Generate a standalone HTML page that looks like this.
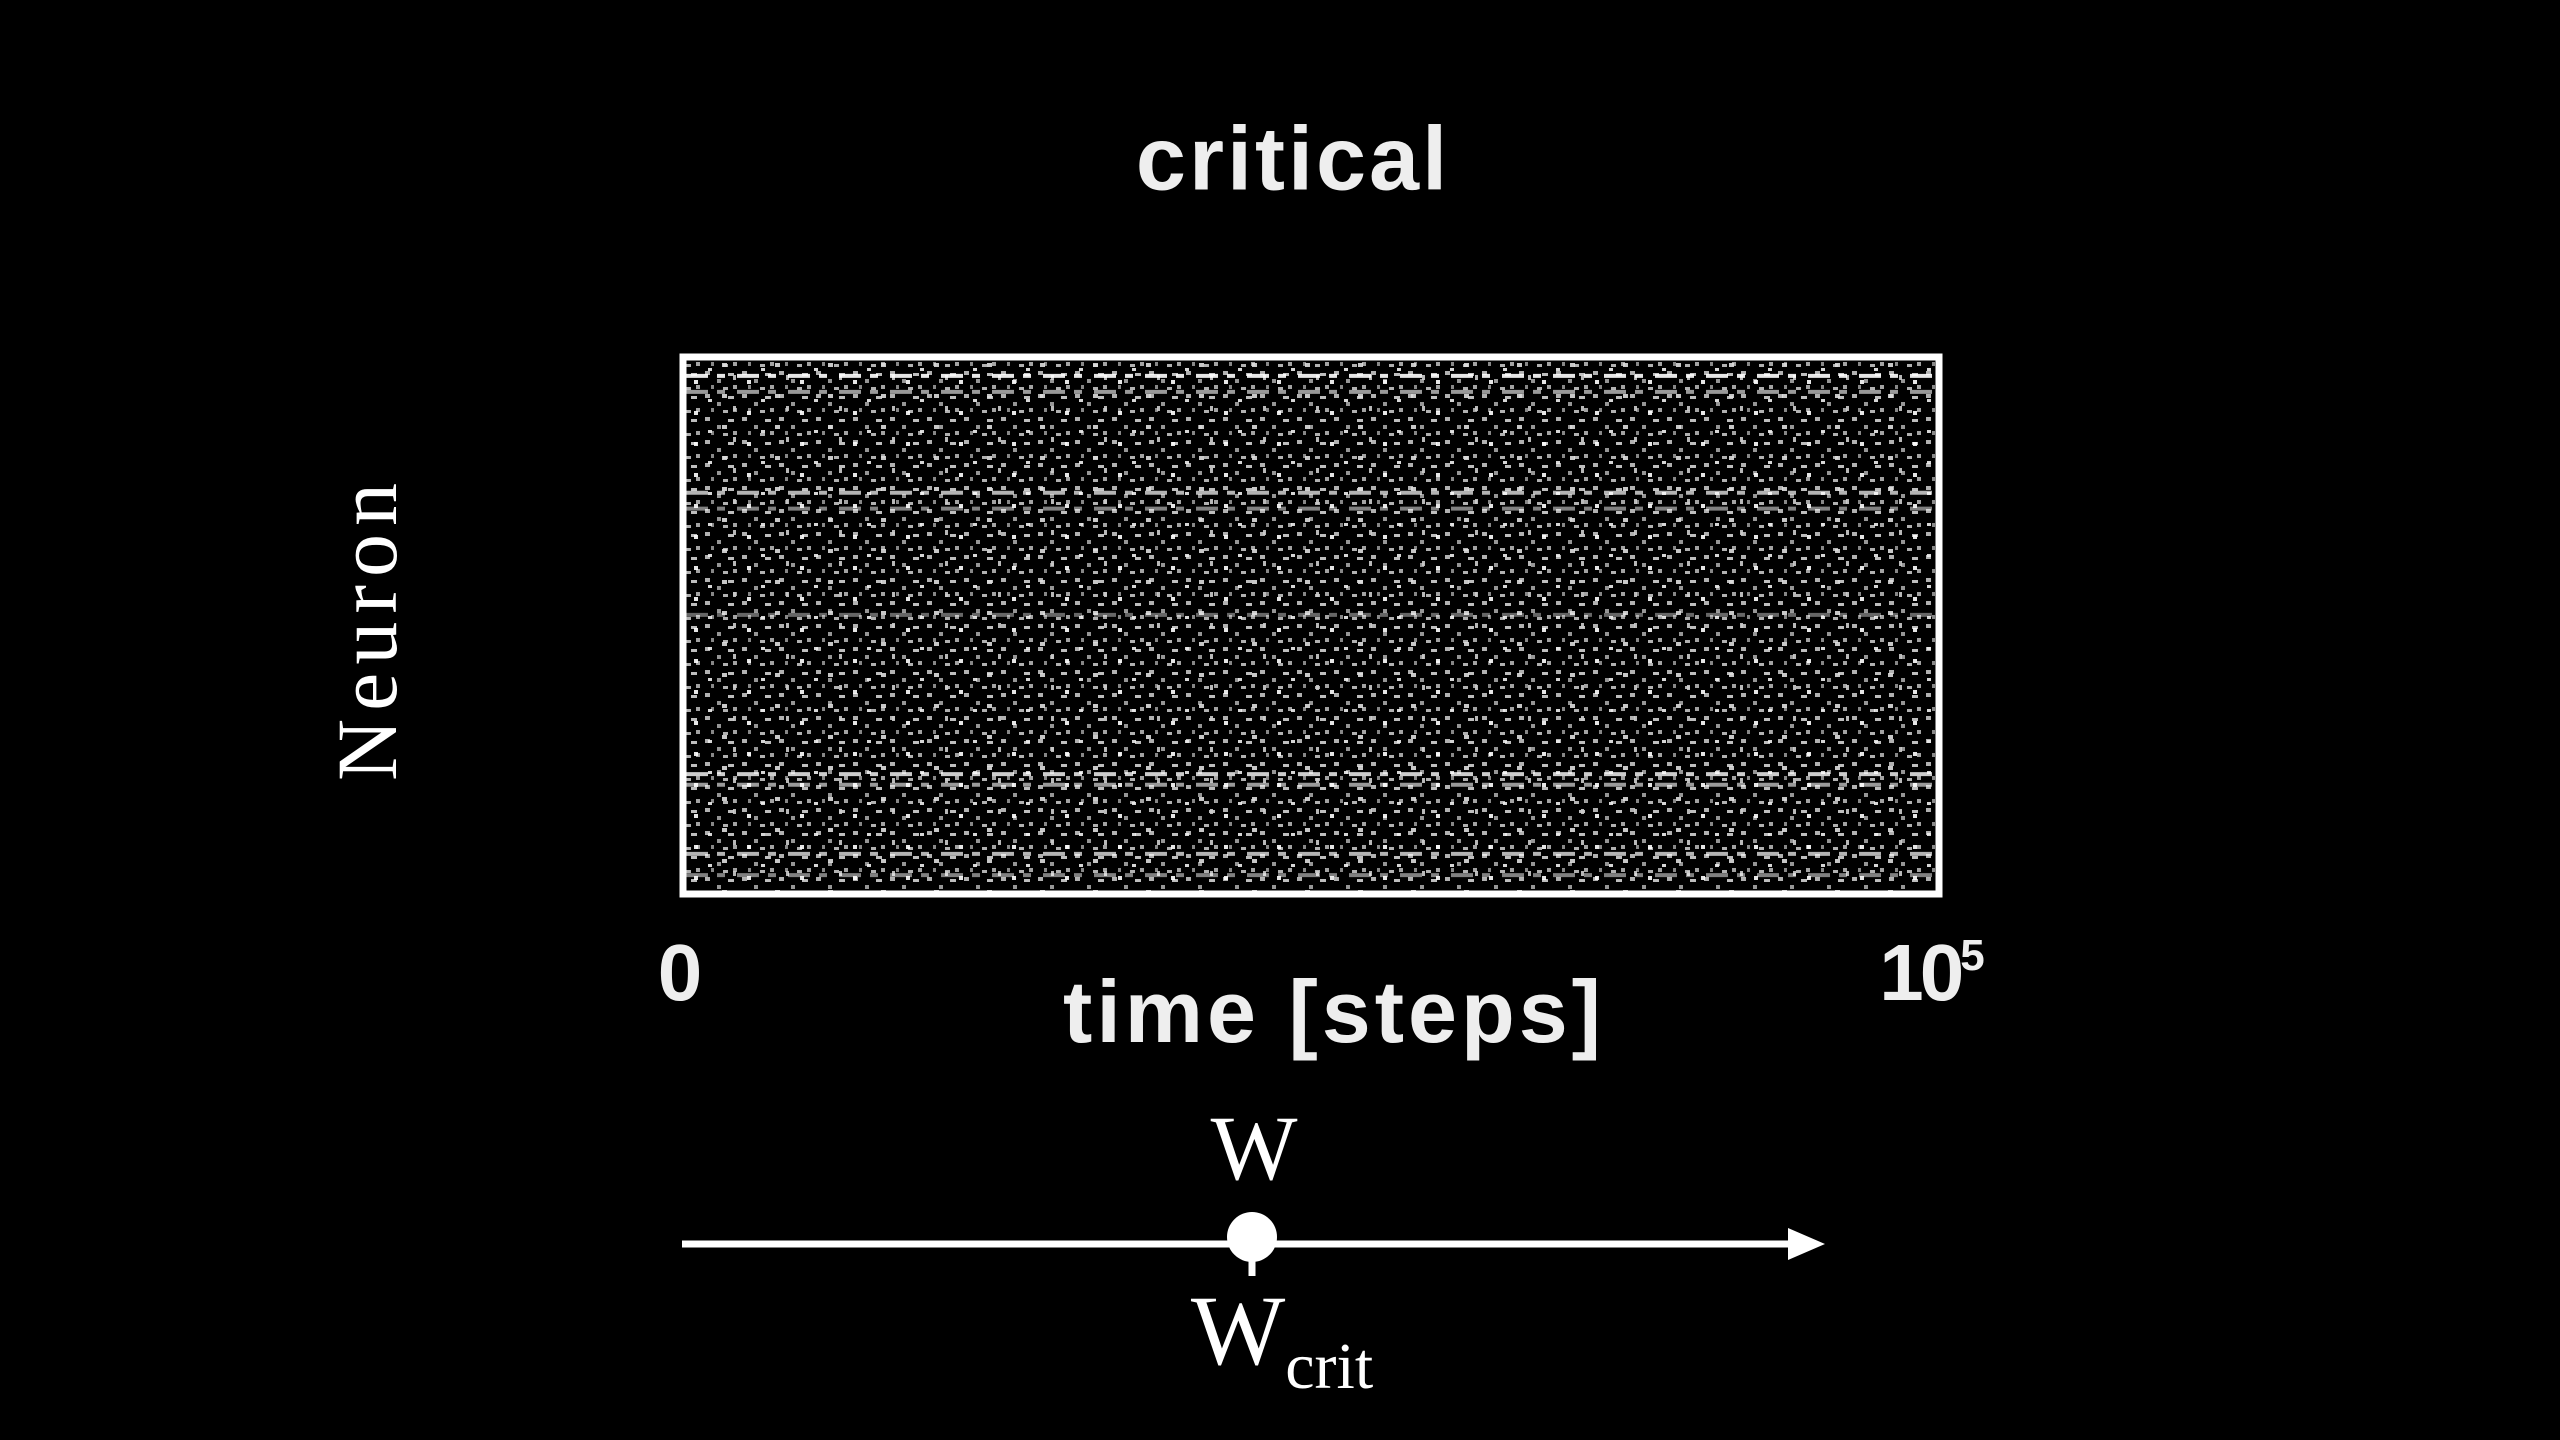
<!DOCTYPE html>
<html><head><meta charset="utf-8"><style>
html,body{margin:0;padding:0;background:#000;}
body{width:2560px;height:1440px;position:relative;overflow:hidden;}
.t{position:absolute;color:#fff;white-space:nowrap;}
</style></head><body>
<div class="t" style="left:1293px;top:160px;transform:translate(-50%,-50%);font:bold 90px 'Liberation Sans',sans-serif;letter-spacing:3px;color:#eee;">critical</div>
<div class="t" style="left:367px;top:628px;transform:translate(-50%,-50%) rotate(-90deg);font:86px 'Liberation Serif',serif;letter-spacing:8px;">Neuron</div>
<svg style="position:absolute;left:0;top:0" width="2560" height="1440">
<defs>
<pattern id="dots" width="37" height="23" patternUnits="userSpaceOnUse">
<rect x="2" y="3" width="5" height="4" fill="#ddd"/><rect x="14" y="11" width="4" height="4" fill="#bbb"/>
<rect x="25" y="5" width="6" height="3" fill="#eee"/><rect x="30" y="17" width="4" height="4" fill="#ccc"/>
<rect x="8" y="17" width="3" height="4" fill="#aaa"/><rect x="20" y="19" width="5" height="3" fill="#ddd"/>
</pattern>
<pattern id="dots2" width="53" height="31" patternUnits="userSpaceOnUse">
<rect x="5" y="8" width="4" height="4" fill="#fff"/><rect x="33" y="22" width="5" height="4" fill="#ddd"/>
<rect x="44" y="3" width="3" height="5" fill="#ccc"/><rect x="19" y="27" width="4" height="3" fill="#eee"/>
</pattern>
</defs>
<g id="raster"></g>
<rect x="683" y="357" width="1256" height="537" fill="none" stroke="#fff" stroke-width="7"/>
</svg>
<div class="t" style="left:680px;top:973px;transform:translate(-50%,-50%);font:bold 80px 'Liberation Sans',sans-serif;color:#eee;">0</div>
<div class="t" style="left:1930px;top:973px;transform:translate(-50%,-50%);font:bold 80px 'Liberation Sans',sans-serif;color:#eee;letter-spacing:-4px;">10<sup style="font-size:44px;vertical-align:30px;">5</sup></div>
<div class="t" style="left:1334px;top:1012px;transform:translate(-50%,-50%);font:bold 88px 'Liberation Sans',sans-serif;letter-spacing:4px;color:#eee;">time [steps]</div>
<div class="t" style="left:1254px;top:1148px;transform:translate(-50%,-50%);font:92px 'Liberation Serif',serif;">W</div>
<svg style="position:absolute;left:0;top:0" width="2560" height="1440">
<line x1="682" y1="1244" x2="1795" y2="1244" stroke="#fff" stroke-width="7"/>
<polygon points="1825,1244 1788,1228 1788,1260" fill="#fff"/>
<line x1="1252" y1="1238" x2="1252" y2="1276" stroke="#fff" stroke-width="7"/>
<circle cx="1252" cy="1237" r="25" fill="#fff"/>
</svg>
<div class="t" style="left:1282px;top:1339px;transform:translate(-50%,-50%);font:100px 'Liberation Serif',serif;">W<span style="font-size:66px;vertical-align:-24px;">crit</span></div>
<script>
const streakRows=[0.03,0.06,0.25,0.28,0.48,0.78,0.8,0.93,0.97];
const streakAlpha=[0.9,0.6,0.7,0.5,0.4,0.8,0.6,0.7,0.5];
const g=document.getElementById('raster');
const X0=686,Y0=360,W=1250,H=531;
function bg(id,op){const r=document.createElementNS('http://www.w3.org/2000/svg','rect');
r.setAttribute('x',X0);r.setAttribute('y',Y0);r.setAttribute('width',W);r.setAttribute('height',H);
r.setAttribute('fill','url(#'+id+')');r.setAttribute('opacity',op);


g.appendChild(r);}
bg('dots',0.8);bg('dots2',0.9);
streakRows.forEach((v,i)=>{const l=document.createElementNS('http://www.w3.org/2000/svg','line');
const y=Y0+v*H;l.setAttribute('x1',X0);l.setAttribute('x2',X0+W);l.setAttribute('y1',y);l.setAttribute('y2',y);
l.setAttribute('stroke','#fff');l.setAttribute('stroke-width',4);l.setAttribute('stroke-dasharray','22 9 8 12');
l.setAttribute('opacity',streakAlpha[i]);


g.appendChild(l);});
</script>
</body></html>
